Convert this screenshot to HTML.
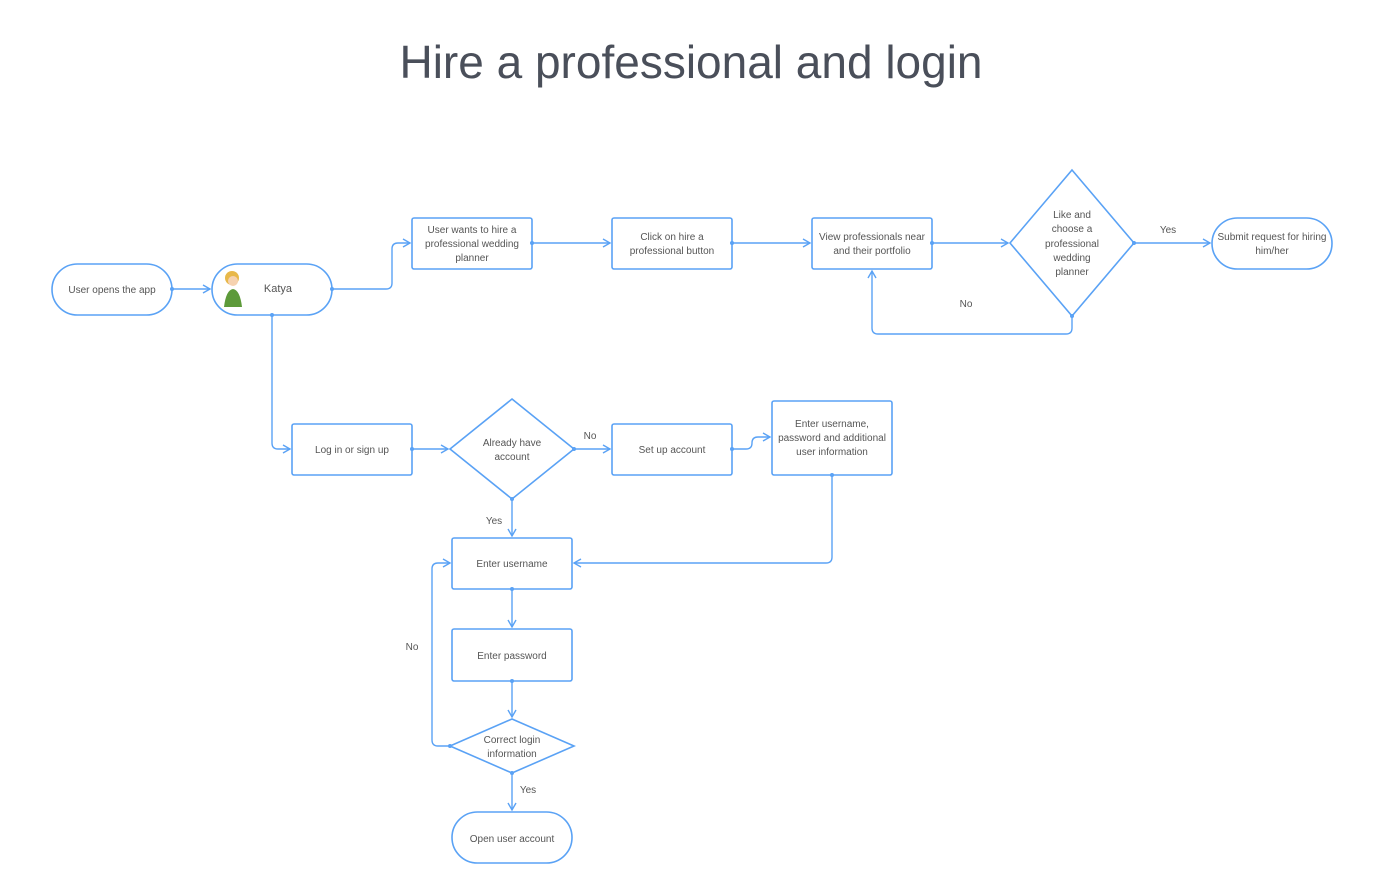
<!DOCTYPE html>
<html><head><style>
body{margin:0;background:#fff;}
svg{display:block;font-family:"Liberation Sans",sans-serif;}
.s{fill:#fff;stroke:#5aa2f5;stroke-width:1.6;}
.l{fill:none;stroke:#5aa2f5;stroke-width:1.4;}
text{fill:#555;font-size:10px;text-anchor:middle;}
.d{fill:#5aa2f5;}
</style></head><body>
<svg width="1377" height="881" viewBox="0 0 1377 881">
<defs><marker id="a" markerWidth="10" markerHeight="10" refX="8" refY="5" orient="auto" markerUnits="userSpaceOnUse"><path d="M1,1 L8,5 L1,9" fill="none" stroke="#5aa2f5" stroke-width="1.4"/></marker></defs>
<text x="691" y="78" style="font-size:46px;fill:#4a4f5a">Hire a professional and login</text>

<!-- connectors -->
<path class="l" d="M172,289 H210" marker-end="url(#a)"/>
<path class="l" d="M332,289 H386 Q392,289 392,283 V249 Q392,243 398,243 H410" marker-end="url(#a)"/>
<path class="l" d="M532,243 H610" marker-end="url(#a)"/>
<path class="l" d="M732,243 H810" marker-end="url(#a)"/>
<path class="l" d="M932,243 H1008" marker-end="url(#a)"/>
<path class="l" d="M1134,243 H1210" marker-end="url(#a)"/>
<path class="l" d="M1072,316 V328 Q1072,334 1066,334 H878 Q872,334 872,328 V271" marker-end="url(#a)"/>
<path class="l" d="M272,315 V443 Q272,449 278,449 H290" marker-end="url(#a)"/>
<path class="l" d="M412,449 H448" marker-end="url(#a)"/>
<path class="l" d="M574,449 H610" marker-end="url(#a)"/>
<path class="l" d="M732,449 H746 Q752,449 752,443 Q752,437 758,437 H770" marker-end="url(#a)"/>
<path class="l" d="M832,475 V557 Q832,563 826,563 H574" marker-end="url(#a)"/>
<path class="l" d="M512,499 V536" marker-end="url(#a)"/>
<path class="l" d="M512,589 V627" marker-end="url(#a)"/>
<path class="l" d="M512,681 V717" marker-end="url(#a)"/>
<path class="l" d="M512,773 V810" marker-end="url(#a)"/>
<path class="l" d="M450,746 H438 Q432,746 432,740 V569 Q432,563 438,563 H450" marker-end="url(#a)"/>

<!-- shapes -->
<rect class="s" x="52" y="264" width="120" height="51" rx="25.5"/>
<text x="112" y="293">User opens the app</text>
<rect class="s" x="212" y="264" width="120" height="51" rx="25.5"/>
<circle cx="232" cy="278" r="7" fill="#e8b84a"/><circle cx="233" cy="281" r="5" fill="#f6d2b0"/>
<path d="M224,307 Q226,290 233,289 Q240,290 242,307 Z" fill="#5d9a3a"/>
<text x="278" y="292" style="font-size:11px">Katya</text>
<rect class="s" x="412" y="218" width="120" height="51" rx="2"/>
<text x="472" y="233">User wants to hire a</text><text x="472" y="247">professional wedding</text><text x="472" y="261">planner</text>
<rect class="s" x="612" y="218" width="120" height="51" rx="2"/>
<text x="672" y="240">Click on hire a</text><text x="672" y="254">professional button</text>
<rect class="s" x="812" y="218" width="120" height="51" rx="2"/>
<text x="872" y="240">View professionals near</text><text x="872" y="254">and their portfolio</text>
<path class="s" d="M1072,170 L1134,243 L1072,316 L1010,243 Z"/>
<text x="1072" y="218">Like and</text><text x="1072" y="232">choose a</text><text x="1072" y="247">professional</text><text x="1072" y="261">wedding</text><text x="1072" y="275">planner</text>
<rect class="s" x="1212" y="218" width="120" height="51" rx="25.5"/>
<text x="1272" y="240">Submit request for hiring</text><text x="1272" y="254">him/her</text>
<text x="1168" y="233">Yes</text><text x="966" y="307">No</text>

<rect class="s" x="292" y="424" width="120" height="51" rx="2"/>
<text x="352" y="453">Log in or sign up</text>
<path class="s" d="M512,399 L574,449 L512,499 L450,449 Z"/>
<text x="512" y="446">Already have</text><text x="512" y="460">account</text>
<text x="590" y="439">No</text>
<rect class="s" x="612" y="424" width="120" height="51" rx="2"/>
<text x="672" y="453">Set up account</text>
<rect class="s" x="772" y="401" width="120" height="74" rx="2"/>
<text x="832" y="427">Enter username,</text><text x="832" y="441">password and additional</text><text x="832" y="455">user information</text>
<text x="494" y="524">Yes</text>
<rect class="s" x="452" y="538" width="120" height="51" rx="2"/>
<text x="512" y="567">Enter username</text>
<rect class="s" x="452" y="629" width="120" height="52" rx="2"/>
<text x="512" y="659">Enter password</text>
<path class="s" d="M512,719 L574,746 L512,773 L450,746 Z"/>
<text x="512" y="743">Correct login</text><text x="512" y="757">information</text>
<text x="412" y="650">No</text><text x="528" y="793">Yes</text>
<rect class="s" x="452" y="812" width="120" height="51" rx="25.5"/>
<text x="512" y="842">Open user account</text>

<g class="d"><circle cx="172" cy="289" r="2"/><circle cx="332" cy="289" r="2"/><circle cx="272" cy="315" r="2"/><circle cx="532" cy="243" r="2"/><circle cx="732" cy="243" r="2"/><circle cx="932" cy="243" r="2"/><circle cx="1134" cy="243" r="2"/><circle cx="1072" cy="316" r="2"/><circle cx="412" cy="449" r="2"/><circle cx="574" cy="449" r="2"/><circle cx="732" cy="449" r="2"/><circle cx="832" cy="475" r="2"/><circle cx="512" cy="499" r="2"/><circle cx="512" cy="589" r="2"/><circle cx="512" cy="681" r="2"/><circle cx="512" cy="773" r="2"/><circle cx="450" cy="746" r="2"/></g>
</svg>
</body></html>
